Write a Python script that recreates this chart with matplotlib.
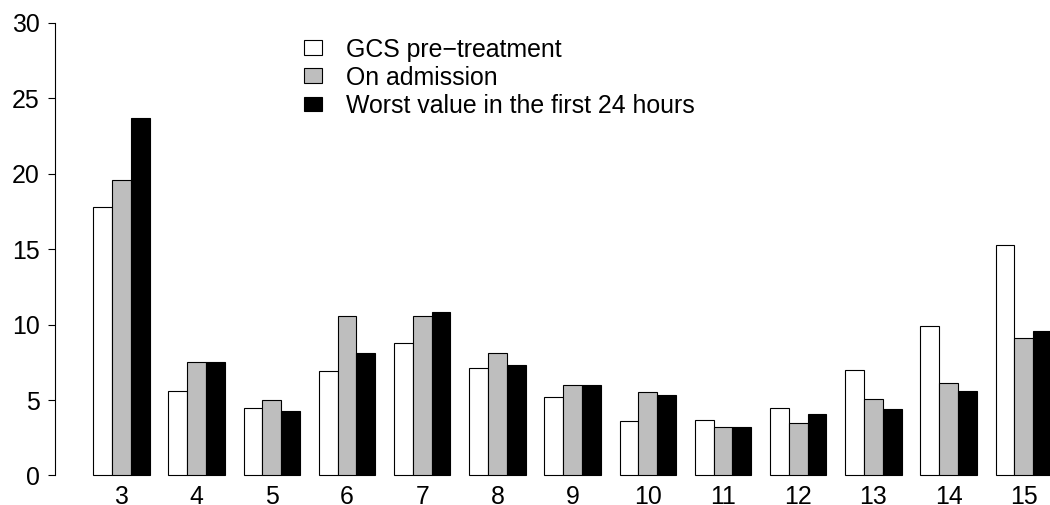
import matplotlib
matplotlib.use("Agg")
import matplotlib.pyplot as plt
from matplotlib.patches import Rectangle

plt.rcParams['font.family'] = ['Liberation Sans', 'DejaVu Sans']

categories = ["3", "4", "5", "6", "7", "8", "9", "10", "11", "12", "13", "14", "15"]
gcs_pre = [17.8, 5.6, 4.5, 6.9, 8.8, 7.1, 5.2, 3.6, 3.7, 4.5, 7.0, 9.9, 15.3]
on_admission = [19.6, 7.5, 5.0, 10.6, 10.6, 8.1, 6.0, 5.5, 3.2, 3.5, 5.1, 6.1, 9.1]
worst_24h = [23.7, 7.5, 4.3, 8.1, 10.8, 7.3, 6.0, 5.3, 3.2, 4.1, 4.4, 5.6, 9.6]
series_labels = ["GCS pre\u2212treatment", "On admission", "Worst value in the first 24 hours"]
series_colors = ["white", "#BEBEBE", "black"]
y_ticks = [0, 5, 10, 15, 20, 25, 30]

FS = 17.9
W, H = 1050, 505
fig = plt.figure(figsize=(W / 100, H / 100), dpi=100)
left_px, right_px = 54.9, 1050
top_px, bot_px = 4.6, 493.6
ax = fig.add_axes([left_px / W, (H - bot_px) / H, (right_px - left_px) / W, (bot_px - top_px) / H])

series = [gcs_pre, on_admission, worst_24h]
n = len(categories)
for j, (vals, col) in enumerate(zip(series, series_colors)):
    xs = [1 + 4 * i + j for i in range(n)]
    ax.bar(xs, vals, width=1, align='edge', color=col, edgecolor='black', linewidth=0.8)

ax.set_xlim(-1.04, 51.89)
ax.set_ylim(-1.2, 31.2)

for s in ['top', 'right', 'bottom']:
    ax.spines[s].set_visible(False)
ax.spines['left'].set_bounds(0, 30)
ax.spines['left'].set_linewidth(0.8)

ax.set_yticks(y_ticks)
ax.set_yticklabels([str(t) for t in y_ticks], fontsize=FS)
ax.tick_params(axis='y', length=4.75, width=0.8, pad=6.3)

ax.set_xticks([1 + 4 * i + 1.5 for i in range(n)])
ax.set_xticklabels(categories, fontsize=FS)
ax.tick_params(axis='x', length=0, pad=-6.2)

# legend (R style, no box)
baselines = [56.7, 85.0, 113.3]
for lab, col, b in zip(series_labels, series_colors, baselines):
    rx0, rx1 = 304, 322
    ry0, ry1 = b - 16.5, b - 2
    fig.patches.append(Rectangle((rx0 / W, (H - ry1) / H), (rx1 - rx0) / W, (ry1 - ry0) / H,
                                 transform=fig.transFigure, facecolor=col, edgecolor='black',
                                 linewidth=0.8))
    fig.text(345.7 / W, (H - b) / H, lab, fontsize=FS, va='baseline', ha='left')

fig.savefig("out.png", dpi=100)
